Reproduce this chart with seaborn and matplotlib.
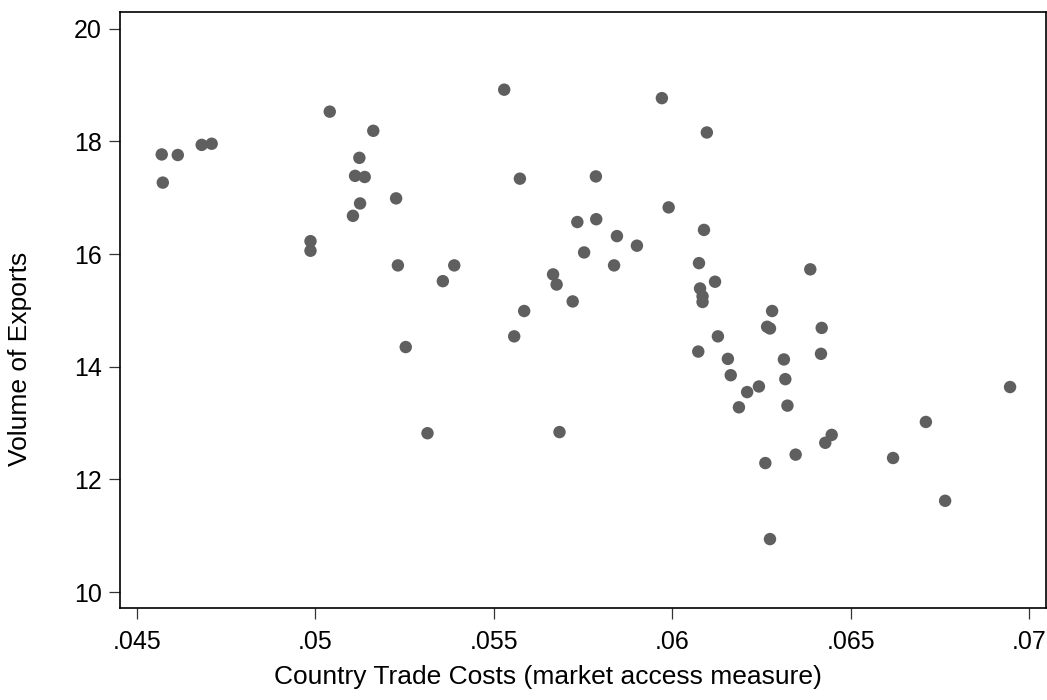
import matplotlib
matplotlib.use("Agg")
import matplotlib.pyplot as plt
import pandas as pd
import seaborn as sns

# market access measure (x) and log volume of exports (y)
trade_costs = [
    .04569, .04614, .04572, .04681, .04709, .04986, .04986, .05040, .05162, .05123,
    .05111, .05138, .05226, .05125, .05105, .05231, .05389, .05357, .05253, .05314,
    .05529, .05971, .05573, .05786, .05734, .05787, .05845, .05901, .05753, .05837,
    .05666, .05676, .05721, .05585, .05557, .05684, .06097, .05990, .06089, .06075,
    .06120, .06078, .06085, .06085, .06387, .06280, .06266, .06274, .06419, .06128,
    .06073, .06156, .06313, .06417, .06164, .06317, .06243, .06210, .06187, .06323,
    .06447, .06429, .06346, .06261, .06274, .06619, .06711, .06765, .06947,
]
export_volume = [
    17.77, 17.76, 17.27, 17.94, 17.96, 16.23, 16.06, 18.53, 18.19, 17.71,
    17.39, 17.37, 16.99, 16.90, 16.68, 15.80, 15.80, 15.52, 14.35, 12.82,
    18.92, 18.77, 17.34, 17.38, 16.57, 16.62, 16.32, 16.15, 16.03, 15.80,
    15.64, 15.46, 15.16, 14.99, 14.54, 12.84, 18.16, 16.83, 16.43, 15.84,
    15.51, 15.39, 15.25, 15.15, 15.73, 14.99, 14.71, 14.68, 14.69, 14.54,
    14.27, 14.14, 14.13, 14.23, 13.85, 13.78, 13.65, 13.55, 13.28, 13.31,
    12.79, 12.65, 12.44, 12.29, 10.94, 12.38, 13.02, 11.62, 13.64,
]

x_ticks = [.045, .05, .055, .06, .065, .07]
x_tick_labels = [".045", ".05", ".055", ".06", ".065", ".07"]
y_ticks = [10, 12, 14, 16, 18, 20]

df = pd.DataFrame({"cost": trade_costs, "exports": export_volume})

sns.set_style("white")
plt.rcParams["font.family"] = ["Liberation Sans", "DejaVu Sans"]

fig = plt.figure(figsize=(10.47, 7), dpi=100)
ax = fig.add_axes([0.1146, 0.1314, 0.8842, 0.8515])

sns.scatterplot(data=df, x="cost", y="exports", ax=ax, color="#5f5f5f",
                s=80, linewidth=0, edgecolor="none")

ax.set_xlim(.04452, .07047)
ax.set_ylim(9.716, 20.30)
ax.set_xticks(x_ticks)
ax.set_xticklabels(x_tick_labels)
ax.set_yticks(y_ticks)

for side in ["left", "bottom", "top", "right"]:
    ax.spines[side].set_visible(True)
    ax.spines[side].set_color("black")
    ax.spines[side].set_linewidth(1.2)

# seaborn's white style hides ticks, turn them back on
ax.tick_params(axis="both", bottom=True, left=True, direction="out", length=8,
               width=0.9, color="#333333", labelsize=18, labelcolor="black")
ax.tick_params(axis="y", pad=5)
ax.tick_params(axis="x", pad=8)

ax.set_xlabel("Country Trade Costs (market access measure)", fontsize=19, color="black")
ax.set_ylabel("Volume of Exports", fontsize=19, color="black")
ax.xaxis.set_label_coords(0.462, -0.095)
ax.yaxis.set_label_coords(-0.095, 0.418)

fig.savefig("out.png", dpi=100)
